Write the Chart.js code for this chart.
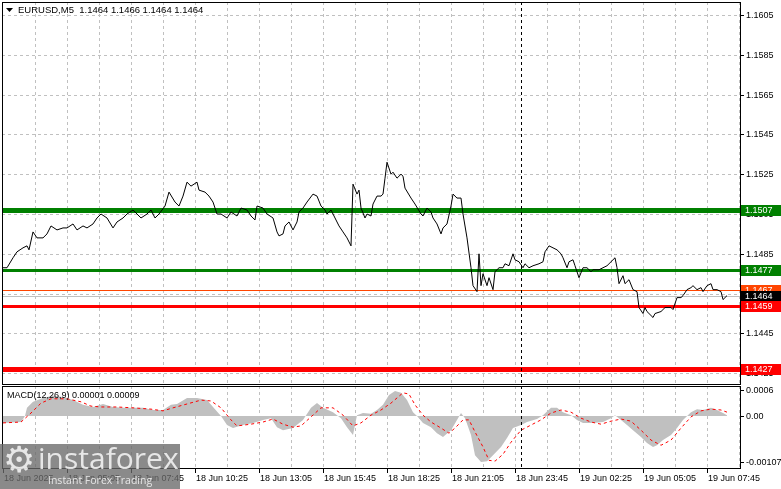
<!DOCTYPE html>
<html lang="en">
<head>
<meta charset="UTF-8">
<title>EURUSD M5</title>
<script src="https://cdn.jsdelivr.net/npm/chart.js@4.4.1/dist/chart.umd.min.js"></script>
<style>
    body { margin: 0; background: #fff; }
    #wrap { position: relative; width: 781px; height: 489px; overflow: hidden; }
    canvas { position: absolute; left: 0; }
    #main { top: 0; }
    #macd { top: 386px; }
    .logo {
        position: absolute; left: 0; top: 444px; width: 180px; height: 45px;
        background: rgba(105, 105, 105, 0.78); color: rgba(255, 255, 255, 0.8);
        font-family: 'Open Sans', 'Liberation Sans', sans-serif; overflow: hidden;
    }
    .logo .gear { position: absolute; left: 3px; top: -5px; font-size: 36px; font-family: 'DejaVu Sans'; }
    .logo .big { position: absolute; left: 38px; top: -7px; font-size: 30px; }
    .logo .small { position: absolute; left: 48px; top: 29px; font-size: 10.5px; }
</style>
</head>
<body>
<div id="wrap">
    <canvas id="main" width="781" height="386"></canvas>
    <canvas id="macd" width="781" height="103"></canvas>
    <div class="logo"><span class="gear">&#9881;</span><span class="big">instaforex</span><span class="small">Instant Forex Trading</span></div>
</div>
<script>
// M5 bars counted from 18 Jun 02:25
var priceBar = [0,2,5,7,10,12,13,15,17,20,22,24,27,30,32,35,37,40,42,45,47,49,52,55,57,60,62,65,67,69,
    72,74,76,78,81,83,86,88,90,92,94,97,98,101,103,105,107,109,112,114,117,119,122,124,126,127,130,132,135,137,
    138,140,141,143,145,147,148,150,152,155,157,159,161,162,164,166,168,170,172,174,175,177,178,179,181,182,184,185,187,189,
    190,191,192,194,195,197,199,200,201,204,206,209,210,212,214,215,217,219,220,222,224,225,227,229,230,232,234,235,237,238,
    239,240,242,243,245,246,248,250,251,253,255,256,258,260,261,263,265,268,270,271,273,275,277,279,280,282,283,285,286,288,
    290,292,294,295,298,300,302,304,306,307,308,310,311,313,315,317,318,320,321,322,325,326,329,331,334,335,337,339,340,342,
    344,345,347,349,350,352,354,355,357,359,360,362];
var priceClose = [1.1478,1.1478,1.1483,1.1486,1.1488,1.1489,1.1487,1.1496,1.1493,1.1493,1.1495,1.1499,1.1497,1.1498,1.1498,1.1500,1.1497,1.1499,1.1498,1.1500,1.1503,1.1505,1.1503,1.1498,1.1501,1.1503,1.1505,1.1507,1.1505,1.1503,
    1.1505,1.1507,1.1503,1.1505,1.1509,1.1516,1.1511,1.1509,1.1514,1.1521,1.1519,1.1521,1.1517,1.1516,1.1514,1.1511,1.1505,1.1505,1.1503,1.1506,1.1504,1.1508,1.1507,1.1504,1.1502,1.1509,1.1508,1.1505,1.1503,1.1496,
    1.1494,1.1495,1.1499,1.1501,1.1497,1.1501,1.1506,1.1508,1.1511,1.1515,1.1514,1.1509,1.1507,1.1505,1.1507,1.1503,1.1499,1.1496,1.1493,1.1489,1.1520,1.1515,1.1517,1.1508,1.1503,1.1505,1.1504,1.1510,1.1514,1.1514,
    1.1515,1.1523,1.1531,1.1525,1.1526,1.1523,1.1525,1.1524,1.1518,1.1513,1.1510,1.1505,1.1504,1.1508,1.1506,1.1503,1.1500,1.1495,1.1498,1.1500,1.1509,1.1515,1.1513,1.1513,1.1505,1.1493,1.1478,1.1469,1.1466,1.1485,
    1.1469,1.1475,1.1469,1.1473,1.1467,1.1476,1.1478,1.1478,1.1480,1.1479,1.1485,1.1482,1.1481,1.1478,1.1480,1.1478,1.1479,1.1480,1.1481,1.1486,1.1489,1.1488,1.1487,1.1485,1.1483,1.1478,1.1481,1.1482,1.1479,1.1473,
    1.1478,1.1478,1.1476,1.1477,1.1477,1.1478,1.1479,1.1481,1.1483,1.1478,1.1470,1.1474,1.1470,1.1472,1.1467,1.1466,1.1458,1.1455,1.1458,1.1456,1.1453,1.1455,1.1456,1.1458,1.1458,1.1457,1.1463,1.1463,1.1464,1.1467,
    1.1468,1.1469,1.1467,1.1468,1.1466,1.1469,1.1470,1.1467,1.1467,1.1466,1.1462,1.1464];

// MACD(12,26,9), values in 0.00001
var histBar = [0,9,11,12,15,20,25,30,35,40,45,50,55,60,65,70,75,80,84,87,92,97,102,105,109,112,115,120,125,130,
    134,137,140,145,150,154,157,160,165,169,172,175,177,180,184,187,190,193,196,199,202,205,207,210,214,217,220,224,227,229,
    231,234,236,239,242,245,249,252,255,259,262,267,270,274,277,280,284,287,290,295,300,304,306,309,312,315,319,322,325,327,
    330,334,337,340,344,347,350,354,357,360,362];
var histPts = [-16,-14,0,19,33,42,47,44,37,26,21,28,21,19,19,19,14,14,26,28,42,42,37,21,0,-21,-28,-21,-16,-9,
    -5,-26,-33,-28,-9,19,30,19,9,-5,-26,-44,2,7,5,14,26,49,58,54,37,9,0,-16,-26,-40,-49,-33,-9,7,
    -5,-44,-91,-107,-105,-91,-72,-51,-28,-21,-14,-7,2,19,19,9,2,-9,-16,-16,-14,-5,2,-9,-21,-33,-49,-63,-72,-68,
    -56,-44,-28,-9,9,16,14,19,14,7,2];
var sigBar = [0,9,14,19,24,32,39,44,49,57,65,74,80,85,92,99,104,109,114,117,124,130,135,140,145,149,154,159,165,170,
    175,179,184,189,194,200,203,206,210,214,219,223,226,230,233,236,240,243,246,250,254,259,264,269,274,279,284,289,294,299,
    304,309,314,319,324,329,334,339,344,349,354,359,362];
var sigPts = [-16,-14,7,30,40,40,33,23,21,21,19,16,12,19,28,37,35,19,-9,-23,-19,-14,-7,-19,-26,-23,-2,19,19,2,
    -23,-16,2,14,30,54,51,26,2,-14,-28,-40,-28,-9,-9,-37,-72,-103,-105,-89,-61,-33,-21,-9,7,14,9,-5,-14,-19,
    -12,-7,-12,-33,-56,-68,-56,-28,-2,12,16,14,9];

var priceTicks = [1.1605, 1.1585, 1.1565, 1.1545, 1.1525, 1.1505, 1.1485, 1.1465, 1.1445, 1.1425];
var macdTicks = [0.0006, 0, -0.00107];
var macdTickLabels = ['0.0006', '0.00', '-0.00107'];
var timeLabels = ['18 Jun 2025', '18 Jun 05:05', '18 Jun 07:45', '18 Jun 10:25', '18 Jun 13:05', '18 Jun 15:45',
    '18 Jun 18:25', '18 Jun 21:05', '18 Jun 23:45', '19 Jun 02:25', '19 Jun 05:05', '19 Jun 07:45'];
var labelStep = 32;   // bars between time labels
var gridStep = 16;    // bars between vertical grid lines
var separatorBar = 259;
var levelPrices = [1.1507, 1.1477, 1.1467, 1.1464, 1.1459, 1.1427];
var quote = ['1.1464', '1.1466', '1.1464', '1.1464'];
var macdNow = ['0.00001', '0.00009'];

var levelStyle = [
    { line: '#008000', width: 5, box: '#008000' },
    { line: '#008000', width: 3, box: '#008000' },
    { line: '#ff4500', width: 1, box: '#ff4500' },
    { line: '#c0c0c0', width: 1, box: '#000000' },
    { line: '#ff0000', width: 3, box: '#ff0000' },
    { line: '#ff0000', width: 5, box: '#ff0000' }
];

var FONT = "9px 'Liberation Sans', Arial, sans-serif";

function vline(ctx, x, y1, y2) {
    ctx.beginPath();
    ctx.moveTo(Math.round(x) + 0.5, y1);
    ctx.lineTo(Math.round(x) + 0.5, y2);
    ctx.stroke();
}
function hline(ctx, y, x1, x2) {
    ctx.beginPath();
    ctx.moveTo(x1, Math.round(y) + 0.5);
    ctx.lineTo(x2, Math.round(y) + 0.5);
    ctx.stroke();
}

// dashed grid, frame, scale labels and separator for both panels
var panelPlugin = {
    id: 'panel',
    beforeDatasetsDraw: function (chart, args, opts) {
        var ctx = chart.ctx, a = chart.chartArea, xs = chart.scales.x, ys = chart.scales.y;
        ctx.save();
        ctx.strokeStyle = '#c0c0c0';
        ctx.lineWidth = 1;
        ctx.setLineDash([3, 3]);
        for (var b = gridStep; b <= xs.max; b += gridStep) {
            vline(ctx, xs.getPixelForValue(b), a.top, a.bottom);
        }
        if (opts.levels) {
            priceTicks.forEach(function (p) { hline(ctx, ys.getPixelForValue(p), a.left, a.right); });
        }
        ctx.restore();
        if (opts.levels) {
            ctx.save();
            levelPrices.forEach(function (p, i) {
                ctx.strokeStyle = levelStyle[i].line;
                ctx.lineWidth = levelStyle[i].width;
                var y = ys.getPixelForValue(p);
                y = levelStyle[i].width % 2 === 1 ? Math.round(y) + 0.5 : Math.round(y);
                ctx.beginPath();
                ctx.moveTo(a.left, y);
                ctx.lineTo(a.right, y);
                ctx.stroke();
            });
            ctx.restore();
        }
    },
    afterDatasetsDraw: function (chart) {
        var ctx = chart.ctx, a = chart.chartArea, xs = chart.scales.x;
        ctx.save();
        ctx.strokeStyle = '#000';
        ctx.lineWidth = 1;
        ctx.setLineDash([3, 3]);
        vline(ctx, xs.getPixelForValue(separatorBar), a.top, a.bottom);
        ctx.restore();
    },
    afterDraw: function (chart, args, opts) {
        var ctx = chart.ctx, a = chart.chartArea, xs = chart.scales.x, ys = chart.scales.y;
        ctx.save();
        ctx.strokeStyle = '#000';
        ctx.lineWidth = 1;
        ctx.strokeRect(a.left + 0.5, a.top + 0.5, a.right - a.left, a.bottom - a.top);
        ctx.fillStyle = '#000';
        ctx.font = FONT;
        ctx.textBaseline = 'middle';
        ctx.textAlign = 'left';
        opts.yticks.forEach(function (v, i) {
            var y = ys.getPixelForValue(v);
            hline(ctx, y, a.right, a.right + 4);
            ctx.fillText(opts.ylabels[i], a.right + 6, Math.round(y) + 1);
        });
        if (opts.xticks) {
            ctx.textBaseline = 'top';
            timeLabels.forEach(function (t, i) {
                var x = xs.getPixelForValue(i * labelStep);
                vline(ctx, x, a.bottom, a.bottom + 5);
                ctx.fillText(t, Math.round(x) + 1, a.bottom + 6);
            });
            ctx.textBaseline = 'middle';
        }
        if (opts.levels) {
            ctx.beginPath();
            ctx.moveTo(6, 8); ctx.lineTo(13, 8); ctx.lineTo(9.5, 12); ctx.closePath();
            ctx.fill();
            ctx.font = "9.5px 'Liberation Sans', Arial, sans-serif";
            ctx.fillText('EURUSD,M5  ' + quote.join(' '), 18, 10);
            ctx.font = FONT;
            levelPrices.forEach(function (p, i) {
                var y = Math.round(ys.getPixelForValue(p));
                ctx.fillStyle = levelStyle[i].box;
                ctx.fillRect(a.right + 1, y - 5, 40, 11);
                ctx.fillStyle = '#fff';
                ctx.fillText(p.toFixed(4), a.right + 5, y + 1);
            });
        } else {
            ctx.fillText('MACD(12,26,9) ' + macdNow.join(' '), 7, 10);
        }
        ctx.restore();
    }
};

function points(xsArr, ysArr, k) {
    return xsArr.map(function (b, i) { return { x: b, y: ysArr[i] * k }; });
}

function xScale(h) {
    return {
        type: 'linear', min: -0.5, max: 368.5,
        grid: { display: false, drawTicks: false },
        border: { display: false },
        ticks: { display: false },
        afterFit: function (s) { s.height = h; }
    };
}
function yScale(min, max) {
    return {
        position: 'right', min: min, max: max,
        grid: { display: false, drawTicks: false },
        border: { display: false },
        ticks: { display: false },
        afterFit: function (s) { s.width = 41; }
    };
}

new Chart(document.getElementById('main'), {
    type: 'line',
    data: {
        datasets: [{
            data: points(priceBar, priceClose, 1),
            borderColor: '#000', borderWidth: 1, pointRadius: 0, tension: 0, fill: false
        }]
    },
    options: {
        responsive: false, animation: false, events: [],
        layout: { autoPadding: false, padding: { left: 2, right: 0, top: 2, bottom: 2 } },
        plugins: {
            legend: { display: false }, tooltip: { enabled: false },
            panel: { levels: true, yticks: priceTicks, ylabels: priceTicks.map(function (v) { return v.toFixed(4); }) }
        },
        scales: { x: xScale(0), y: yScale(1.14196, 1.16115) }
    },
    plugins: [panelPlugin]
});

new Chart(document.getElementById('macd'), {
    type: 'line',
    data: {
        datasets: [{
            data: points(sigBar, sigPts, 0.00001),
            borderColor: '#ff0000', borderWidth: 1, borderDash: [3, 3], pointRadius: 0, tension: 0, fill: false
        }, {
            data: points(histBar, histPts, 0.00001),
            borderColor: 'rgba(0,0,0,0)', borderWidth: 0, backgroundColor: '#c0c0c0',
            pointRadius: 0, tension: 0, fill: 'origin'
        }]
    },
    options: {
        responsive: false, animation: false, events: [],
        layout: { autoPadding: false, padding: { left: 2, right: 0, top: 0, bottom: 0 } },
        plugins: {
            legend: { display: false }, tooltip: { enabled: false },
            panel: { levels: false, yticks: macdTicks, ylabels: macdTickLabels, xticks: true }
        },
        scales: { x: xScale(21), y: yScale(-0.001209, 0.000698) }
    },
    plugins: [panelPlugin]
});
</script>
</body>
</html>
